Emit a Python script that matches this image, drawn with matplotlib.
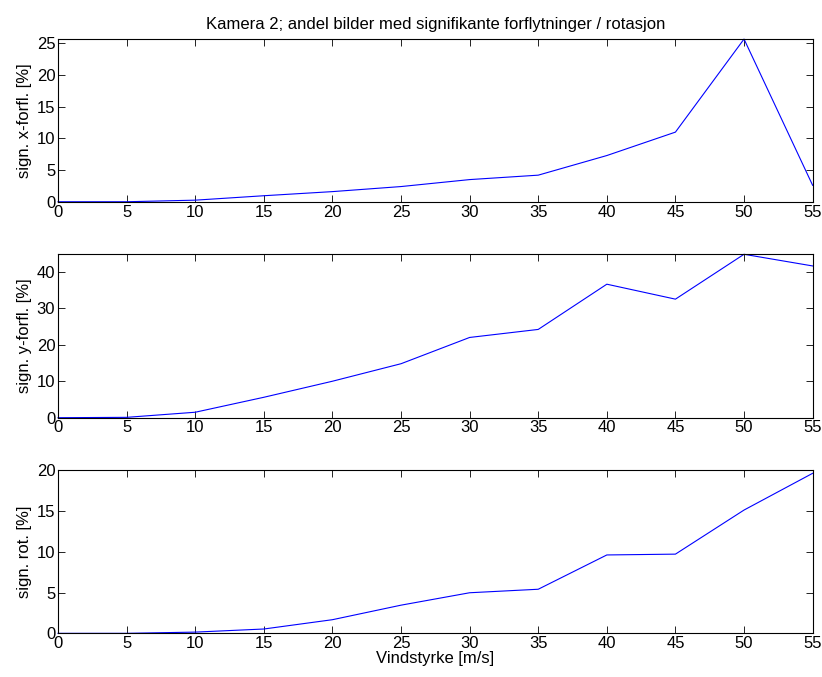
import matplotlib
matplotlib.use("Agg")
import matplotlib.pyplot as plt

plt.rcParams['font.family'] = ['Liberation Sans', 'DejaVu Sans']
plt.rcParams['font.size'] = 12

wind = [0, 5, 10, 15, 20, 25, 30, 35, 40, 45, 50, 55]
x_disp = [0, 0, 0.25, 0.95, 1.6, 2.4, 3.5, 4.2, 7.3, 11.0, 25.7, 2.6]
y_disp = [0, 0.1, 1.5, 5.6, 10.0, 14.8, 22.0, 24.2, 36.6, 32.5, 44.8, 41.6]
rot = [0, 0, 0.15, 0.53, 1.67, 3.45, 4.97, 5.4, 9.6, 9.7, 15.1, 19.6]

xticks = [0, 5, 10, 15, 20, 25, 30, 35, 40, 45, 50, 55]
yticks_top = [0, 5, 10, 15, 20, 25]
yticks_mid = [0, 10, 20, 30, 40]
yticks_bot = [0, 5, 10, 15, 20]

title = "Kamera 2; andel bilder med signifikante forflytninger / rotasjon"
ylabels = ["sign. x-forfl. [%]", "sign. y-forfl. [%]", "sign. rot. [%]"]
xlabel = "Vindstyrke [m/s]"

fig = plt.figure(figsize=(8.22, 6.77), dpi=100)
left, width = 0.0706, 0.918
positions = [
    [left, 0.702, width, 0.2403],
    [left, 0.383, width, 0.2414],
    [left, 0.0645, width, 0.2412],
]
series = [x_disp, y_disp, rot]
ylims = [(0, max(x_disp)), (0, max(y_disp)), (0, 20)]
yticks = [yticks_top, yticks_mid, yticks_bot]

for i in range(3):
    ax = fig.add_axes(positions[i])
    ax.plot(wind, series[i], color=(0, 0, 1), lw=0.8, clip_on=False)
    ax.set_xlim(0, 55)
    ax.set_ylim(*ylims[i])
    ax.set_xticks(xticks)
    ax.set_yticks(yticks[i])
    ax.tick_params(direction='in', top=True, right=True, length=5,
                   width=0.6, labelsize=12, pad=2)
    for s in ax.spines.values():
        s.set_linewidth(0.8)
    ax.set_ylabel(ylabels[i], fontsize=12, labelpad=3)
    if i == 0:
        ax.set_title(title, fontsize=12, pad=7)
    if i == 2:
        ax.set_xlabel(xlabel, fontsize=12, labelpad=0)

fig.savefig("out.png", dpi=100)
